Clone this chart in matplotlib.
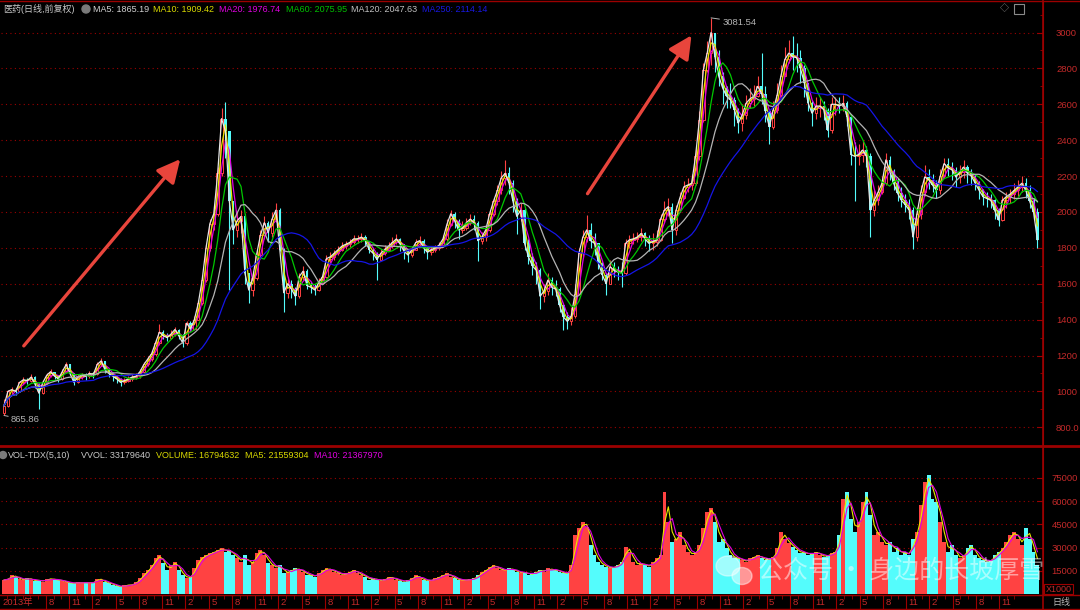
import numpy as np
import pandas as pd
import matplotlib
matplotlib.use('Agg')
import matplotlib.pyplot as plt
from matplotlib.patches import Rectangle, Ellipse
from matplotlib.ticker import MultipleLocator, FuncFormatter

plt.rcParams['font.family'] = ['Liberation Sans', 'Noto Sans CJK SC', 'DejaVu Sans']

# 医药指数, 半月一根 (2013-02 起), 数值读图估计
close_2013 = [920, 1000, 1010, 1000, 1050, 1065, 1060, 1080, 1040, 990, 1050, 1090,
              1110, 1085, 1070, 1110, 1150, 1100, 1050, 1080, 1090, 1085]
high_2013 = [960, 1010, 1025, 1020, 1060, 1080, 1075, 1095, 1085, 1045, 1065, 1105,
             1125, 1110, 1090, 1125, 1165, 1150, 1095, 1095, 1105, 1100]
low_2013 = [865.86, 915, 985, 980, 995, 1040, 1040, 1050, 1020, 900, 985, 1040,
            1080, 1070, 1050, 1065, 1100, 1090, 1035, 1045, 1070, 1065]
vol_2013 = [9000, 10000, 12000, 11000, 9500, 9000, 10500, 9000, 8500, 9000, 8000, 9500,
            10000, 9000, 9000, 8500, 7500, 7000, 7000, 7500, 7000, 7500]

close_2014 = [1100, 1095, 1150, 1170, 1120, 1100, 1085, 1070, 1050, 1060, 1070, 1080,
              1085, 1110, 1150, 1180, 1210, 1270, 1330, 1310, 1300, 1320, 1345, 1310]
high_2014 = [1115, 1110, 1165, 1185, 1170, 1125, 1110, 1090, 1075, 1075, 1085, 1095,
             1100, 1125, 1165, 1200, 1225, 1290, 1375, 1340, 1325, 1340, 1360, 1350]
low_2014 = [1075, 1075, 1090, 1140, 1100, 1080, 1060, 1045, 1030, 1040, 1050, 1060,
            1070, 1075, 1100, 1140, 1170, 1200, 1260, 1290, 1280, 1290, 1310, 1290]
vol_2014 = [7000, 7500, 10000, 9000, 7500, 7000, 6000, 5000, 4500, 5500, 6000, 5800,
            7900, 10100, 13300, 15500, 18700, 23000, 25100, 19700, 15500, 18700, 20800, 15500]

close_2015 = [1270, 1380, 1350, 1400, 1490, 1620, 1800, 1935, 1990, 2215, 2520, 2450,
              2060, 1900, 1950, 1975, 1660, 1565, 1630, 1760, 1870, 1940, 1885, 1960]
high_2015 = [1320, 1395, 1390, 1420, 1510, 1650, 1820, 1960, 2030, 2250, 2580, 2615,
             2450, 1990, 2000, 2010, 1990, 1660, 1670, 1790, 1900, 1980, 1950, 2000]
low_2015 = [1250, 1260, 1330, 1340, 1400, 1480, 1610, 1780, 1900, 1980, 2200, 2300,
            1565, 1820, 1860, 1880, 1600, 1490, 1530, 1620, 1740, 1850, 1830, 1860]
vol_2015 = [12200, 10100, 11200, 16500, 21900, 24000, 25100, 26200, 27300, 28300, 29400, 27300,
            28300, 25100, 23000, 20800, 25100, 18700, 20800, 26200, 28300, 25100, 19700, 18700]

close_2016 = [2010, 1790, 1550, 1600, 1570, 1530, 1640, 1670, 1590, 1580, 1565, 1605,
              1640, 1740, 1750, 1770, 1790, 1810, 1820, 1830, 1850, 1850, 1860, 1840]
high_2016 = [2050, 2020, 1800, 1640, 1620, 1580, 1660, 1700, 1680, 1610, 1600, 1630,
             1660, 1760, 1775, 1790, 1810, 1830, 1840, 1850, 1870, 1870, 1880, 1870]
low_2016 = [1960, 1780, 1440, 1520, 1520, 1480, 1520, 1620, 1570, 1550, 1540, 1560,
            1600, 1630, 1710, 1735, 1760, 1780, 1795, 1805, 1820, 1825, 1830, 1810]
vol_2016 = [16500, 18700, 13300, 14400, 15500, 16500, 15500, 14400, 12200, 12200, 11200, 13300,
            15500, 16500, 15500, 14400, 13300, 12200, 13300, 14400, 15500, 13300, 12200, 11200]

close_2017 = [1790, 1770, 1735, 1770, 1790, 1810, 1830, 1850, 1820, 1780, 1760, 1790,
              1830, 1840, 1800, 1775, 1790, 1800, 1815, 1850, 1930, 1990, 1950, 1900]
high_2017 = [1830, 1800, 1775, 1795, 1815, 1830, 1860, 1875, 1855, 1820, 1790, 1810,
             1850, 1865, 1850, 1810, 1805, 1815, 1830, 1870, 1960, 2010, 2000, 1960]
low_2017 = [1770, 1730, 1620, 1730, 1760, 1785, 1800, 1820, 1780, 1740, 1720, 1750,
            1790, 1810, 1770, 1740, 1760, 1775, 1790, 1810, 1840, 1920, 1910, 1850]
vol_2017 = [9000, 10100, 9000, 8500, 9500, 11200, 10100, 9000, 8500, 8000, 9000, 10100,
            12200, 10100, 9000, 8500, 9000, 10100, 11200, 12200, 13300, 11200, 10100, 9000]

close_2018 = [1910, 1940, 1960, 1940, 1840, 1860, 1900, 1990, 2060, 2120, 2190, 2215,
              2160, 2060, 1975, 2010, 1825, 1750, 1700, 1675, 1530, 1560, 1620, 1580]
high_2018 = [1950, 1965, 1990, 1985, 1950, 1890, 1920, 2010, 2080, 2150, 2230, 2290,
             2250, 2180, 2080, 2050, 2020, 1850, 1770, 1720, 1690, 1600, 1660, 1640]
low_2018 = [1880, 1900, 1930, 1900, 1725, 1820, 1840, 1890, 1980, 2040, 2100, 2150,
            2100, 2000, 1875, 1950, 1790, 1710, 1650, 1600, 1462, 1500, 1540, 1540]
vol_2018 = [9000, 9000, 9500, 10100, 12200, 14400, 15500, 17600, 18700, 16500, 15500, 15500,
            16500, 15500, 14400, 13300, 14400, 12200, 13300, 14400, 15500, 14400, 16500, 15500]

close_2019 = [1570, 1480, 1415, 1390, 1420, 1545, 1770, 1860, 1900, 1840, 1825, 1715,
              1650, 1600, 1695, 1675, 1665, 1660, 1825, 1845, 1850, 1860, 1880, 1850]
high_2019 = [1620, 1580, 1470, 1440, 1470, 1600, 1800, 1900, 1985, 1940, 1880, 1800,
             1720, 1660, 1730, 1720, 1700, 1720, 1850, 1870, 1880, 1890, 1910, 1890]
low_2019 = [1530, 1440, 1340, 1350, 1370, 1410, 1560, 1750, 1830, 1800, 1760, 1680,
            1620, 1536, 1600, 1640, 1620, 1583, 1650, 1800, 1820, 1830, 1840, 1810]
vol_2019 = [15500, 14400, 13300, 13300, 18700, 38000, 42300, 46600, 43300, 31500, 25100, 20800,
            18700, 17600, 16500, 17600, 18700, 20800, 30500, 27300, 20800, 18700, 19700, 18700]

close_2020 = [1825, 1835, 1845, 1960, 2010, 2030, 1900, 2010, 2080, 2140, 2150, 2160,
              2310, 2515, 2790, 2885, 3000, 2865, 2755, 2690, 2645, 2625, 2570, 2495]
high_2020 = [1870, 1880, 1900, 1990, 2060, 2080, 2050, 2040, 2110, 2170, 2190, 2210,
             2350, 2560, 2830, 2950, 3081.54, 3000, 2900, 2780, 2700, 2720, 2640, 2580]
low_2020 = [1780, 1790, 1810, 1840, 1940, 1980, 1825, 1870, 2000, 2070, 2110, 2120,
            2150, 2290, 2500, 2780, 2820, 2780, 2700, 2600, 2580, 2580, 2480, 2440]
vol_2020 = [17600, 20800, 23000, 25100, 65900, 46600, 33700, 35800, 40100, 31500, 27300, 25100,
            27300, 31500, 42300, 53000, 55200, 46600, 33700, 35800, 29400, 25100, 23000, 23000]

close_2021 = [2540, 2605, 2630, 2645, 2700, 2660, 2560, 2475, 2570, 2650, 2760, 2850,
              2885, 2865, 2860, 2800, 2720, 2605, 2550, 2590, 2590, 2570, 2455, 2600]
high_2021 = [2600, 2650, 2690, 2710, 2760, 2885, 2700, 2560, 2620, 2720, 2820, 2920,
             2960, 2980, 2940, 2900, 2820, 2700, 2620, 2640, 2640, 2620, 2580, 2640]
low_2021 = [2450, 2520, 2580, 2590, 2640, 2600, 2500, 2380, 2460, 2550, 2640, 2760,
            2830, 2790, 2780, 2720, 2640, 2560, 2480, 2520, 2530, 2510, 2420, 2440]
vol_2021 = [21900, 20800, 23000, 24000, 25100, 23000, 21900, 23000, 24000, 29400, 40100, 35800,
            32600, 30500, 28300, 26200, 27300, 25100, 26200, 27300, 25100, 24000, 25100, 26200]

close_2022 = [2600, 2590, 2605, 2530, 2320, 2310, 2320, 2345, 2310, 2010, 2065, 2110,
              2160, 2290, 2230, 2160, 2105, 2065, 2040, 2010, 1860, 1990, 2110, 2195]
high_2022 = [2640, 2640, 2650, 2620, 2540, 2390, 2380, 2400, 2370, 2330, 2120, 2150,
             2200, 2330, 2310, 2240, 2190, 2140, 2100, 2070, 2030, 2030, 2150, 2260]
low_2022 = [2540, 2550, 2560, 2480, 2260, 2060, 2260, 2280, 2250, 1860, 1980, 2040,
            2100, 2150, 2180, 2120, 2060, 2030, 2000, 1960, 1795, 1840, 1960, 2090]
vol_2022 = [27300, 38000, 61600, 65900, 48700, 40100, 46600, 59400, 65900, 50900, 38000, 40100,
            33700, 31500, 33700, 27300, 29400, 25100, 27300, 25100, 35800, 40100, 57300, 72300]

close_2023 = [2180, 2150, 2120, 2200, 2270, 2245, 2235, 2195, 2220, 2250, 2215, 2200,
              2160, 2120, 2085, 2075, 2065, 2010, 1955, 2065, 2085, 2100, 2120, 2140]
high_2023 = [2240, 2210, 2180, 2240, 2300, 2300, 2280, 2250, 2260, 2290, 2260, 2240,
             2210, 2170, 2130, 2110, 2100, 2070, 2020, 2090, 2110, 2130, 2160, 2180]
low_2023 = [2130, 2110, 2080, 2100, 2190, 2200, 2180, 2140, 2160, 2190, 2160, 2150,
            2120, 2070, 2040, 2030, 2020, 1960, 1920, 1950, 2020, 2050, 2070, 2090]
vol_2023 = [76600, 61600, 59400, 46600, 33700, 27300, 31500, 25100, 23000, 25100, 29400, 31500,
            25100, 23000, 21900, 20800, 21900, 25100, 27300, 29400, 33700, 38000, 40100, 35800]

close_2024 = [2160, 2120, 2060, 2000, 1845]
high_2024 = [2200, 2190, 2150, 2080, 2020]
low_2024 = [2110, 2080, 2020, 1960, 1800]
vol_2024 = [31500, 42300, 35800, 27300, 18700]

first_open = 880

years = range(2013, 2025)
close = np.array(sum([globals()[f'close_{y}'] for y in years], []), dtype=float)
high = np.array(sum([globals()[f'high_{y}'] for y in years], []), dtype=float)
low = np.array(sum([globals()[f'low_{y}'] for y in years], []), dtype=float)
vol = np.array(sum([globals()[f'vol_{y}'] for y in years], []), dtype=float)

n = len(close)
x = np.arange(n)
opn = np.r_[first_open, close[:-1]]
high = np.maximum(high, np.maximum(opn, close))
low = np.minimum(low, np.minimum(opn, close))
up = close >= opn

s = pd.Series(close)
ma_lines = [  # (window in half-months, colour)
    (3, '#e000e0'), (2, '#e8e800'), (1, '#e6e6e6'),
    (6, '#00c800'), (11, '#b4b4b4'), (24, '#1515e6'),
]

RED, CYAN = '#ff4242', '#54fcfc'
DR, TR = '#9b0000', '#c42a2a'

W, H = 1080, 610
fig = plt.figure(figsize=(W / 100, H / 100), dpi=100, facecolor='black')


def box(x0, y0, x1, y1):
    return [x0 / W, 1 - y1 / H, (x1 - x0) / W, (y1 - y0) / H]


px0, pstep = 4, 3.885
xl = ((1 - px0) / pstep, (1043 - px0) / pstep)

# ---- price panel ----
ax = fig.add_axes(box(1, 2, 1043, 445))
ax.set_facecolor('black')
ax.set_xlim(xl)
ax.set_ylim(701.4, 3170)
ax.set_yticks(np.arange(800, 3001, 200))
ax.yaxis.set_minor_locator(MultipleLocator(100))
ax.yaxis.set_major_formatter(FuncFormatter(lambda v, p: f'{v:.1f}' if v < 1000 else f'{v:.0f}'))
ax.yaxis.tick_right()
ax.tick_params(axis='y', which='both', direction='in', colors=DR, labelcolor=TR,
               labelsize=6.8, pad=9.4)
ax.tick_params(axis='y', which='major', length=4)
ax.tick_params(axis='y', which='minor', length=2)
ax.tick_params(axis='x', bottom=False, labelbottom=False)
ax.grid(axis='y', which='major', color=DR, linestyle=(0, (1, 3)), lw=0.8)
for side in ['left', 'top', 'bottom']:
    ax.spines[side].set_visible(False)
ax.spines['right'].set_color(DR)

ax.vlines(x, low, high, colors=np.where(up, RED, CYAN), lw=0.8, zorder=2)
ax.bar(x[up], (close - opn)[up], bottom=opn[up], width=0.62, facecolor='black',
       edgecolor=RED, lw=0.7, zorder=2.5)
ax.bar(x[~up], (opn - close)[~up], bottom=close[~up], width=0.62, color=CYAN, lw=0, zorder=2.5)
for w, c in ma_lines:
    ax.plot(x, s.rolling(w, min_periods=1).mean(), color=c, lw=0.9, zorder=3)

ipk = int(np.argmax(high))
ax.annotate(f'{high[ipk]:.2f}', xy=(ipk, high[ipk]), xytext=(8, -3), textcoords='offset points',
            color='#b4b4b4', fontsize=6.8, va='center',
            arrowprops=dict(arrowstyle='-', color='#b4b4b4', lw=0.7, shrinkA=0, shrinkB=0))
ilo = int(np.argmin(low))
ax.annotate(f'{low[ilo]:.2f}', xy=(ilo, low[ilo]), xytext=(5, -3), textcoords='offset points',
            color='#b4b4b4', fontsize=6.8, va='center',
            arrowprops=dict(arrowstyle='-', color='#b4b4b4', lw=0.7, shrinkA=0, shrinkB=0))

# red arrows
for (x0, y0), (x1, y1) in [((22, 348), (182, 157)), ((586, 196), (693, 33))]:
    fig.add_artist(matplotlib.patches.FancyArrowPatch(
        (x0 / W, 1 - y0 / H), (x1 / W, 1 - y1 / H), transform=fig.transFigure,
        arrowstyle='-|>,head_length=1.0,head_width=0.5', mutation_scale=14,
        color='#e8453c', lw=2.4))

# ---- volume panel ----
axv = fig.add_axes(box(1, 447, 1043, 594))
axv.set_facecolor('black')
axv.set_xlim(xl)
axv.set_ylim(0, 94840)
axv.bar(x, vol, width=1.0, color=np.where(up, RED, CYAN), lw=0, zorder=2)
vs = pd.Series(vol)
axv.plot(x, vs.rolling(2, min_periods=1).mean(), color='#e8e800', lw=0.8, zorder=3)
axv.plot(x, vs.rolling(3, min_periods=1).mean(), color='#e000e0', lw=0.8, zorder=3)
axv.set_yticks(np.arange(15000, 75001, 15000))
axv.yaxis.tick_right()
axv.tick_params(axis='y', direction='in', colors=DR, labelcolor=TR, labelsize=6.8, pad=6, length=4)
axv.tick_params(axis='x', bottom=False, labelbottom=False)
axv.grid(axis='y', color=DR, linestyle=(0, (1, 3)), lw=0.8)
for side in ['left', 'top', 'bottom']:
    axv.spines[side].set_visible(False)
axv.spines['right'].set_color(DR)

# ---- date strip ----
axd = fig.add_axes(box(1, 595, 1043, 609))
axd.set_facecolor('black')
axd.set_xlim(xl)
axd.set_ylim(0, 1)
axd.set_xticks([])
axd.set_yticks([])
for side in ['left', 'right']:
    axd.spines[side].set_visible(False)
for side in ['top', 'bottom']:
    axd.spines[side].set_color(DR)
month_px = 7.748
for M in range(1, 132):
    t = (month_px * M - 0.5 - px0) / pstep
    if M % 3 == 0 and M >= 6:
        axd.vlines(t, 0, 1, color=DR, lw=0.8)
        axd.text(t + 2.5 / pstep, 0.45, str((M + 1) % 12 + 1), color=TR, fontsize=6.8,
                 va='center', ha='left')
    else:
        axd.vlines(t, 0.7, 1, color=DR, lw=0.6)
axd.text((2 - px0) / pstep, 0.45, '2013年', color=TR, fontsize=6.8, va='center', ha='left')

# ---- frame lines ----
for yy, lw in [(1, 1.0), (446, 2.0), (595, 1.0), (609, 1.0)]:
    fig.add_artist(plt.Line2D([0, 1], [1 - yy / H] * 2, color=DR, lw=lw))
fig.add_artist(plt.Line2D([1043 / W] * 2, [0, 1], color=DR, lw=1.2))

# ---- legends ----
def ftext(px, py, s, c, **kw):
    fig.text(px / W, 1 - py / H, s, color=c, fontsize=6.5, va='center', ha='left', **kw)


ftext(3, 9, '医药(日线,前复权)', '#c8c8c8')
fig.add_artist(Ellipse((86 / W, 1 - 9 / H), 8 / W, 8 / H, transform=fig.transFigure, color='#7a7a7a'))
for s_, px, c in [('MA5: 1865.19', 93, '#d2d2d2'), ('MA10: 1909.42', 153, '#d8d800'),
                  ('MA20: 1976.74', 219, '#e000e0'), ('MA60: 2075.95', 286, '#00c000'),
                  ('MA120: 2047.63', 351, '#c0c0c0'), ('MA250: 2114.14', 422, '#1818e0')]:
    ftext(px, 9, s_, c)
ftext(1000, 9, '◇', '#8a8a8a')
fig.add_artist(Rectangle((1014 / W, 1 - 14 / H), 10 / W, 10 / H, transform=fig.transFigure,
                         fill=False, edgecolor='#8a8a8a', lw=0.8))

fig.add_artist(Ellipse((3 / W, 1 - 455 / H), 7 / W, 7 / H, transform=fig.transFigure, color='#7a7a7a'))
for s_, px, c in [('VOL-TDX(5,10)', 8, '#c8c8c8'), ('VVOL: 33179640', 81, '#c8c8c8'),
                  ('VOLUME: 16794632', 156, '#d8d800'), ('MA5: 21559304', 245, '#d8d800'),
                  ('MA10: 21367970', 314, '#e000e0')]:
    ftext(px, 455, s_, c)

# right-bottom boxes
fig.add_artist(Rectangle((1044 / W, 1 - 594 / H), 29 / W, 10 / H, transform=fig.transFigure,
                         fill=False, edgecolor=DR, lw=0.8))
ftext(1046, 589, 'X1000', TR)
ftext(1052, 602, '日线', '#b8b8b8')

# watermark
fig.add_artist(Ellipse((728 / W, 1 - 566 / H), 24 / W, 20 / H, transform=fig.transFigure,
                       color='white', alpha=0.45))
fig.add_artist(Ellipse((742 / W, 1 - 576 / H), 20 / W, 17 / H, transform=fig.transFigure,
                       color='white', alpha=0.45))
fig.text(758 / W, 1 - 571 / H, '公众号 · 身边的长坡厚雪', color='white', alpha=0.5, fontsize=18,
         va='center', ha='left', family=['Noto Sans CJK SC', 'DejaVu Sans'])

fig.savefig('out.png', dpi=100, facecolor='black')
